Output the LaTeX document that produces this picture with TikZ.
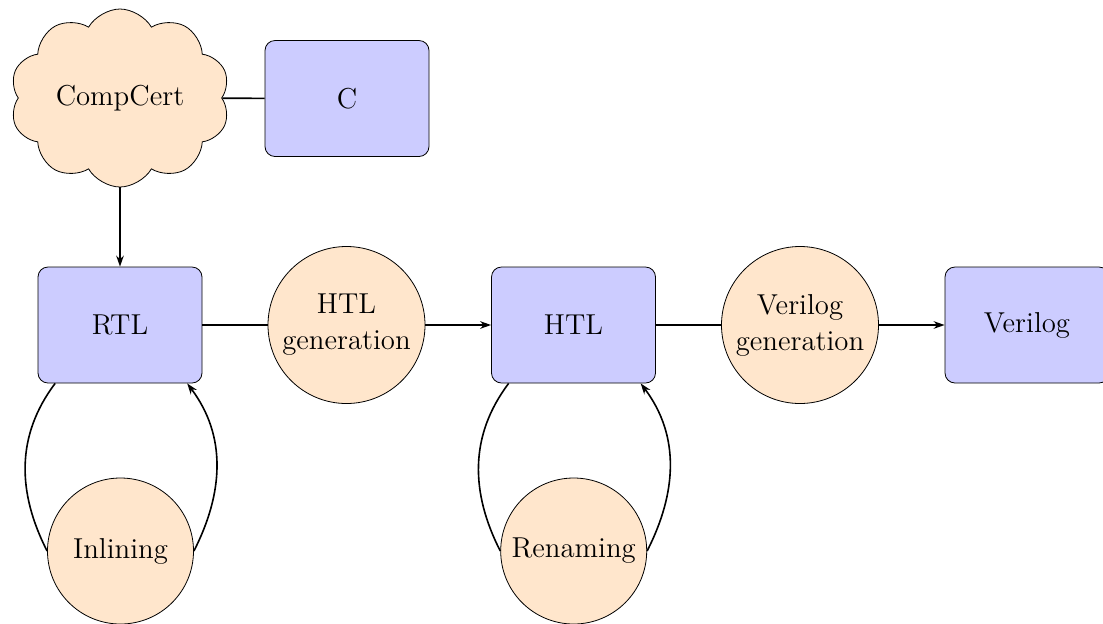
\documentclass[tikz,border=0pt]{standalone}
\usetikzlibrary{shapes.symbols,arrows.meta}
\definecolor{boxblue}{RGB}{204,204,255}
\definecolor{passorange}{RGB}{255,230,204}
\begin{document}
\begin{tikzpicture}[x=0.5pt,y=0.5pt,
  every node/.style={font=\Large},
  lang/.style={draw, fill=boxblue, rounded corners=5pt, minimum width=82pt, minimum height=58pt, inner sep=0pt},
  pass/.style={draw, fill=passorange, circle, inner sep=0pt, align=center},
  cloudnode/.style={draw, fill=passorange, cloud, cloud puffs=10, cloud puff arc=120, cloud ignores aspect, minimum width=110pt, minimum height=89pt, inner sep=0pt},
  conn/.style={thick},
  arr/.style={thick, -{Stealth[length=5.5pt,width=3.8pt]}}]
\useasboundingbox (0,0) rectangle (1103,-623);
\node[cloudnode] (compcert) at (120,-98) {CompCert};
\node[lang] (c) at (347,-98.5) {C};
\node[lang] (rtl) at (120,-325) {RTL};
\node[pass, minimum size=78.5pt] (htlgen) at (346.5,-325) {HTL\\generation};
\node[lang] (htl) at (573.5,-325) {HTL};
\node[pass, minimum size=78.5pt] (vgen) at (800,-325) {Verilog\\generation};
\node[lang] (verilog) at (1027,-325) {Verilog};
\node[pass, minimum size=73pt] (inlining) at (120.5,-551) {Inlining};
\node[pass, minimum size=73pt] (renaming) at (573.7,-551) {Renaming};
\draw[conn] (compcert) -- (c);
\draw[arr] (compcert) -- (rtl);
\draw[conn] (rtl) -- (htlgen);
\draw[arr] (htlgen) -- (htl);
\draw[conn] (htl) -- (vgen);
\draw[arr] (vgen) -- (verilog);
\draw[conn] (rtl.-138) to[out=-127,in=117] (inlining.west);
\draw[arr] (inlining.east) to[out=63,in=-53] (rtl.-41);
\draw[conn] (htl.-138) to[out=-127,in=117] (renaming.west);
\draw[arr] (renaming.east) to[out=63,in=-53] (htl.-41);
\end{tikzpicture}
\end{document}
